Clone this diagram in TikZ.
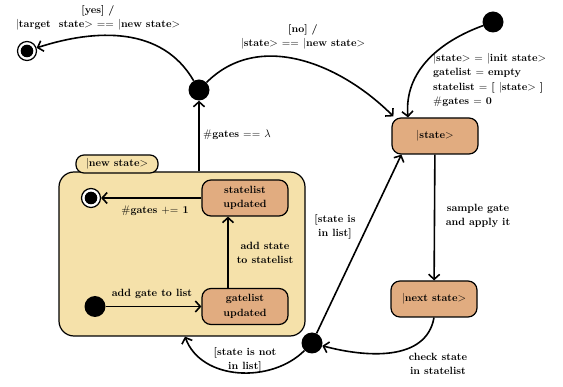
\documentclass[tikz,border=0pt]{standalone}
\usetikzlibrary{arrows.meta}
\definecolor{stfill}{RGB}{225,172,128}
\definecolor{compfill}{RGB}{245,225,170}
\newcommand\myket[1]{$|$#1$>$}
\begin{document}
\begin{tikzpicture}[x=1pt,y=1pt,
  every node/.style={font=\fontsize{10.5}{14.5}\selectfont\bfseries},
  stbox/.style={draw, line width=1.2pt, rounded corners=9pt, fill=stfill, minimum width=86pt, minimum height=36pt, align=center, inner sep=2pt},
  dot/.style={circle, fill=black, minimum size=21pt, inner sep=0pt},
  fin/.style={circle, draw=black, fill=white, line width=1.2pt, minimum size=19pt, inner sep=0pt,
    path picture={\fill[black] (path picture bounding box.center) circle (6.3pt);}},
  conn/.style={line width=1.6pt, -{Straight Barb[length=5pt,width=11pt]}},
  lbl/.style={align=center, inner sep=0pt}
]
\useasboundingbox (0,0) rectangle (563,-387);
% composite
\node[draw, fill=compfill, line width=1.2pt, rounded corners=15pt, minimum width=246pt, minimum height=164pt, inner sep=0pt] (comp) at (182,-254) {};
\node[draw, fill=compfill, line width=1.2pt, rounded corners=8pt, minimum width=82pt, minimum height=18pt, inner sep=0pt] (tab) at (117,-164) {\myket{new state}};
% nodes
\node[fin] (fintop) at (27,-51) {};
\node[dot] (jtop) at (199,-90) {};
\node[dot] (init) at (493,-22) {};
\node[stbox] (state) at (435,-136) {\myket{state}};
\node[stbox] (next) at (434,-299) {\myket{next state}};
\node[dot] (jbot) at (312,-343) {};
\node[stbox] (sl) at (245,-198) {statelist\\updated};
\node[stbox] (gl) at (245,-306.5) {gatelist\\updated};
\node[fin] (finin) at (91,-198) {};
\node[dot] (ini) at (95,-306.5) {};
% connectors
\draw[conn] (jtop) to[out=120,in=18] (fintop);
\draw[conn] (jtop) to[out=45,in=135] ([shift={(2pt,1pt)}]state.north west);
\draw[conn] (init) to[out=200,in=95] ([xshift=-27pt]state.north);
\draw[conn] (state) -- (next);
\draw[conn] (next.south) to[out=-100,in=-15] (jbot);
\draw[conn] (jbot) -- ([xshift=10pt]state.south west);
\draw[conn] (jbot) to[out=-135,in=-70] ([xshift=3pt]comp.south);
\draw[conn] (jtop |- comp.north) -- (jtop);
\draw[conn] ([xshift=-17pt]gl.north) -- ([xshift=-17pt]sl.south);
\draw[conn] (sl) -- (finin);
\draw[conn] (ini) -- (gl);
% labels
\node[lbl] (lyes) at (98,-18) {[yes] /\\\myket{target~ state} $==$ \myket{new state}};
\node[lbl] (lno) at (303,-37) {[no] /\\\myket{state} $==$ \myket{new state}};
\node[lbl, align=left, anchor=north west] (linit) at (433,-53) {\myket{state} $=$ \myket{init state}\\gatelist $=$ empty\\statelist $=$ [ \myket{state} ]\\$\#$gates $=$ 0};
\node[lbl, anchor=west] (llam) at (203,-135) {$\#$gates $==$ $\lambda$};
\node[lbl] (lplus) at (155,-211) {$\#$gates $\mathrel{+}\mathrel{=}$ 1};
\node[lbl] (laddst) at (265,-253) {add state\\to statelist};
\node[lbl] (laddg) at (152,-294) {add gate to list};
\node[lbl] (lin) at (335,-227) {[state is\\in list]};
\node[lbl] (lsamp) at (478,-216) {sample gate\\and apply it};
\node[lbl] (lcheck) at (438,-364) {check state\\in statelist};
\node[lbl] (lnot) at (245,-360) {[state is not\\in list]};
\end{tikzpicture}
\end{document}
